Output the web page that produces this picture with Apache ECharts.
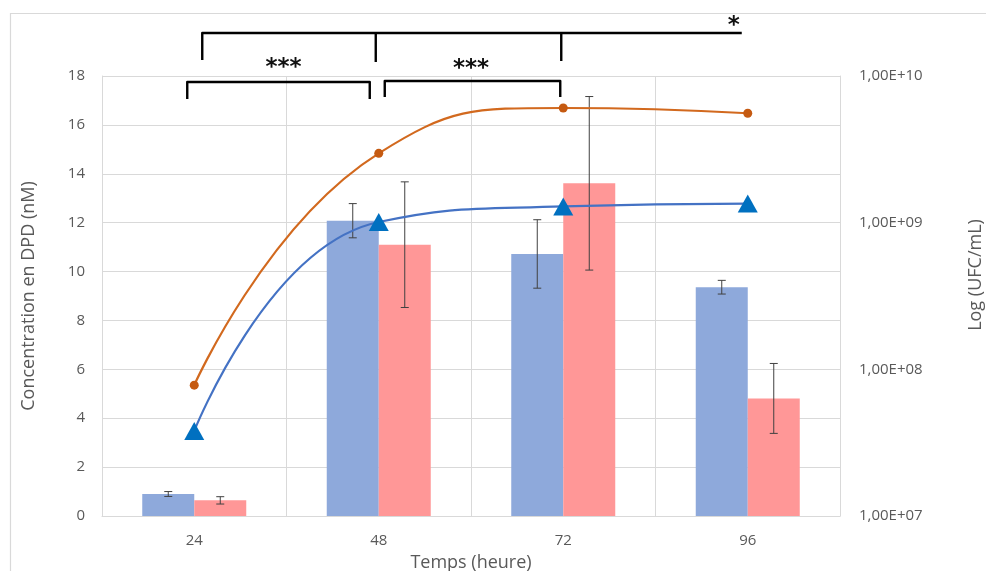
<!DOCTYPE html>
<html>
<head>
<meta charset="utf-8">
<script src="https://cdn.jsdelivr.net/npm/echarts@6/dist/echarts.min.js"></script>
<style>
html,body{margin:0;padding:0;background:#fff;}
#chart{width:986px;height:571px;}
</style>
</head>
<body>
<div id="chart"></div>
<script>
// ---- data ----
const categories = ['24', '48', '72', '96'];
const dpdBlue = [0.9, 12.08, 10.72, 9.36];
const dpdBlueErr = [0.1, 0.7, 1.4, 0.28];
const dpdPink = [0.64, 11.1, 13.61, 4.81];
const dpdPinkErr = [0.15, 2.57, 3.55, 1.43];
const ufcOrange = [7.8e7, 2.97e9, 6.05e9, 5.57e9];
const ufcBlue = [3.8e7, 1.01e9, 1.29e9, 1.35e9];
const leftAxisTitle = 'Concentration en DPD (nM)';
const rightAxisTitle = 'Log (UFC/mL)';
const xAxisTitle = 'Temps (heure)';

const FONT = '"Open Sans", "Liberation Sans", sans-serif';
const TXT = '#595959';
const GRIDC = '#D9D9D9';
const BAR_W = 52;

function errSeries(vals, errs, offset) {
  return {
    type: 'custom',
    yAxisIndex: 0,
    z: 5,
    silent: true,
    data: vals.map((v, i) => [i, v - errs[i], v + errs[i]]),
    encode: { x: 0, y: [1, 2] },
    renderItem: function (params, api) {
      const lo = api.coord([api.value(0), api.value(1)]);
      const hi = api.coord([api.value(0), api.value(2)]);
      const x = lo[0] + offset;
      const st = { stroke: '#404040', lineWidth: 1 };
      return {
        type: 'group',
        children: [
          { type: 'line', shape: { x1: x, y1: lo[1], x2: x, y2: hi[1] }, style: st },
          { type: 'line', shape: { x1: x - 4, y1: lo[1], x2: x + 4, y2: lo[1] }, style: st },
          { type: 'line', shape: { x1: x - 4, y1: hi[1], x2: x + 4, y2: hi[1] }, style: st }
        ]
      };
    }
  };
}

function sci(v) {
  const e = Math.round(Math.log10(v));
  return '1,00E+' + (e < 10 ? '0' + e : e);
}

const chart = echarts.init(document.getElementById('chart'), null, { renderer: 'canvas' });
const option = {
  animation: false,
  backgroundColor: '#fff',
  grid: { left: 102, right: 146, top: 76, bottom: 55, containLabel: false, outerBoundsMode: 'none' },
  xAxis: {
    type: 'category',
    data: categories,
    boundaryGap: true,
    axisLine: { show: true, lineStyle: { color: GRIDC, width: 1 } },
    axisTick: { show: false },
    axisLabel: { color: TXT, fontFamily: FONT, fontSize: 15, margin: 17 },
    splitLine: { show: true, lineStyle: { color: GRIDC, width: 1 } },
    name: xAxisTitle,
    nameLocation: 'middle',
    nameGap: 38,
    nameTextStyle: { color: TXT, fontFamily: FONT, fontSize: 18 }
  },
  yAxis: [
    {
      type: 'value',
      min: 0, max: 18, interval: 2,
      axisLine: { show: true, lineStyle: { color: GRIDC } },
      axisTick: { show: false },
      axisLabel: { color: TXT, fontFamily: FONT, fontSize: 15, margin: 17 },
      splitLine: { show: true, lineStyle: { color: GRIDC, width: 1 } },
      name: leftAxisTitle,
      nameLocation: 'middle',
      nameGap: 64,
      nameTextStyle: { color: TXT, fontFamily: FONT, fontSize: 18 }
    },
    {
      type: 'log',
      logBase: 10,
      min: 1e7, max: 1e10,
      position: 'right',
      axisLine: { show: true, lineStyle: { color: GRIDC } },
      axisTick: { show: false },
      axisLabel: { color: TXT, fontFamily: FONT, fontSize: 15, margin: 19, formatter: sci },
      splitLine: { show: false },
      minorTick: { show: false }
    }
  ],
  series: [
    {
      type: 'bar', yAxisIndex: 0, data: dpdBlue, barWidth: BAR_W, barGap: '0%',
      itemStyle: { color: '#8EA9DB' }, z: 2
    },
    {
      type: 'bar', yAxisIndex: 0, data: dpdPink, barWidth: BAR_W, barGap: '0%',
      itemStyle: { color: '#FF9797' }, z: 2
    },
    errSeries(dpdBlue, dpdBlueErr, -BAR_W / 2),
    errSeries(dpdPink, dpdPinkErr, BAR_W / 2),
    {
      type: 'line', yAxisIndex: 1, data: ufcOrange, smooth: 0.5,
      symbol: 'circle', symbolSize: 9,
      lineStyle: { color: '#D2691E', width: 2.2 },
      itemStyle: { color: '#C55A11' }, z: 6
    },
    {
      type: 'line', yAxisIndex: 1, data: ufcBlue, smooth: 0.5,
      symbol: 'triangle', symbolSize: [20, 18],
      lineStyle: { color: '#4472C4', width: 2.2 },
      itemStyle: { color: '#0070C0' }, z: 7
    }
  ]
};
chart.setOption(option);

// significance brackets (annotation layer), anchored to category centres
const cx = i => chart.convertToPixel({ xAxisIndex: 0 }, categories[i]);
const BL = { stroke: '#000', lineWidth: 2.4, fill: null, lineJoin: 'round', lineCap: 'butt' };
const starStyle = (x, y, t) => ({
  type: 'text', x: x, y: y, z: 20,
  style: { text: t, fill: '#111', font: 'bold 23px "DejaVu Sans", sans-serif', textAlign: 'center', textVerticalAlign: 'middle' }
});
const graphics = [
  { type: 'rect', shape: { x: 10.5, y: 13.5, width: 1000, height: 600 }, style: { stroke: GRIDC, fill: null, lineWidth: 1.2 }, z: -1, silent: true },
  // top bracket
  { type: 'polyline', z: 20, shape: { points: [[cx(0) + 8, 60], [cx(0) + 8, 33], [cx(3) - 6, 33]] }, style: BL },
  { type: 'line', z: 20, shape: { x1: cx(1) - 3, y1: 33, x2: cx(1) - 3, y2: 62 }, style: BL },
  { type: 'line', z: 20, shape: { x1: cx(2) - 2, y1: 33, x2: cx(2) - 2, y2: 61 }, style: BL },
  starStyle(cx(3) - 14, 26, '*'),
  // lower-left bracket
  { type: 'polyline', z: 20, shape: { points: [[cx(0) - 7, 99], [cx(0) - 7, 82], [cx(1) - 9, 82], [cx(1) - 9, 99]], smooth: 0 }, style: BL },
  starStyle((cx(0) + cx(1)) / 2 - 3, 68, '***'),
  // lower-right bracket
  { type: 'polyline', z: 20, shape: { points: [[cx(1) + 6, 97], [cx(1) + 6, 81], [cx(2) - 3, 81], [cx(2) - 3, 97]] }, style: BL },
  starStyle((cx(1) + cx(2)) / 2, 69, '***'),
  // right axis title
  {
    type: 'text', x: 976, y: 275, rotation: Math.PI / 2, z: 20,
    style: { text: rightAxisTitle, fill: TXT, font: '18px ' + FONT, textAlign: 'center', textVerticalAlign: 'middle' }
  }
];
chart.setOption({ graphic: graphics });
</script>
</body>
</html>
